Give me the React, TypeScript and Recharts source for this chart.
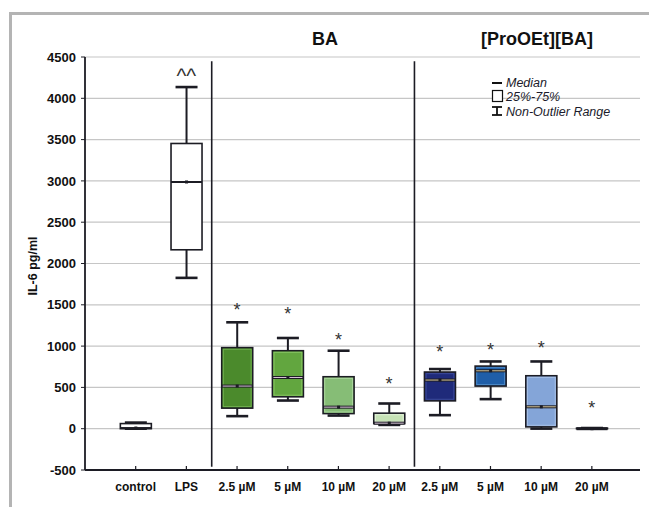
import {
  Bar,
  CartesianGrid,
  ComposedChart,
  ReferenceLine,
  Scatter,
  XAxis,
  YAxis,
} from "recharts";

const categories = ["control", "LPS", "2.5 µM", "5 µM", "10 µM", "20 µM", "2.5 µM", "5 µM", "10 µM", "20 µM"];
const whiskerLow = [0, 1826, 152, 341, 159, 46, 164, 358, 1, 0];
const quartile1 = [0, 2166, 249, 386, 183, 62, 337, 516, 22, 0];
const medians = [8, 2987, 516, 620, 261, 67, 589, 701, 265, 0];
const quartile3 = [62, 3453, 981, 944, 629, 188, 686, 758, 641, 6];
const whiskerHigh = [74, 4136, 1288, 1098, 944, 305, 722, 814, 814, 8];
const marks = ["", "^^", "*", "*", "*", "*", "*", "*", "*", "*"];
const markValues = [null, 4330, 1500, 1450, 1130, 600, 995, 1015, 1040, 310];
const yTicks = [-500, 0, 500, 1000, 1500, 2000, 2500, 3000, 3500, 4000, 4500];

const boxFills = ["#ffffff", "#ffffff", "#4b8a2c", "#62a63f", "#86bd76", "#c6e2b6", "#1f2a7a", "#1f5ea8", "#84a5d8", "#c8d7ef"];
const boxInner = ["#ffffff", "#ffffff", "#6fae4e", "#86c462", "#a9d49c", "#e2f1d8", "#3b4a9a", "#4a86c4", "#a7c0e6", "#e0e9f7"];
const medianTint = ["#111111", "#111111", "#d8c4d8", "#d8c4d8", "#d8c4d8", "#d8c4d8", "#d9c89a", "#d9c89a", "#d9c89a", "#d9c89a"];

const chartData = categories.map((label, i) => ({
  pos: i + 1,
  label,
  low: whiskerLow[i],
  q1: quartile1[i],
  median: medians[i],
  q3: quartile3[i],
  high: whiskerHigh[i],
  mark: marks[i],
  markValue: markValues[i],
  fill: boxFills[i],
  inner: boxInner[i],
  tint: medianTint[i],
}));

const ink = "#1c1c24";
const fontFamily = "Liberation Sans, Arial, sans-serif";

const BoxShape = (props: any) => {
  const { x, y, width, height, payload } = props;
  if (!payload || x == null) return null;
  const { low, high, q1, median, q3, fill, inner, tint } = payload;
  const top = Math.min(y, y + height);
  const bottom = Math.max(y, y + height);
  const span = high - low || 1;
  const yOf = (v: number) => bottom - ((v - low) / span) * (bottom - top);
  const cx = x + width / 2;
  const capHalf = 11;
  const boxTop = yOf(q3);
  const boxBottom = yOf(q1);
  const medY = yOf(median);
  const colored = fill !== "#ffffff";
  const tall = boxBottom - boxTop > 4;
  return (
    <g>
      <line x1={cx} x2={cx} y1={yOf(high)} y2={yOf(low)} stroke={ink} strokeWidth={2} />
      <line x1={cx - capHalf} x2={cx + capHalf} y1={yOf(high)} y2={yOf(high)} stroke={ink} strokeWidth={2.6} />
      <line x1={cx - capHalf} x2={cx + capHalf} y1={yOf(low)} y2={yOf(low)} stroke={ink} strokeWidth={2.6} />
      <rect
        x={x}
        y={boxTop}
        width={width}
        height={Math.max(boxBottom - boxTop, 0.5)}
        fill={tall ? fill : ink}
        stroke={ink}
        strokeWidth={1.6}
      />
      {colored && tall && (
        <rect
          x={x + 1.6}
          y={boxTop + 1.6}
          width={width - 3.2}
          height={boxBottom - boxTop - 3.2}
          fill="none"
          stroke={inner}
          strokeWidth={1}
        />
      )}
      <line x1={x} x2={x + width} y1={medY} y2={medY} stroke={ink} strokeWidth={colored ? 3 : 2} />
      {colored && tall && (
        <line x1={x + 1} x2={x + width - 1} y1={medY} y2={medY} stroke={tint} strokeWidth={1} />
      )}
      <rect x={cx - 1.5} y={medY - 1.5} width={3} height={3} fill={ink} />
    </g>
  );
};

const MarkShape = (props: any) => {
  const { cx, cy, payload } = props;
  if (!payload || !payload.mark || cy == null || Number.isNaN(cy)) return null;
  const isCaret = payload.mark === "^^";
  return (
    <text
      x={cx}
      y={cy + (isCaret ? 12 : 11)}
      textAnchor="middle"
      fontFamily={fontFamily}
      fontSize={isCaret ? 21 : 18}
      fill="#333"
    >
      {payload.mark}
    </text>
  );
};

const CategoryTick = (props: any) => {
  const { x, y, payload } = props;
  const idx = Math.round(payload.value) - 1;
  return (
    <g>
      <line x1={x} x2={x} y1={y - 4} y2={y} stroke={ink} strokeWidth={1.2} />
      <text
        x={x}
        y={y + 21}
        textAnchor="middle"
        fontFamily={fontFamily}
        fontSize={12}
        fontWeight="bold"
        fill="#111"
      >
        {categories[idx] ?? ""}
      </text>
    </g>
  );
};

const App = () => {
  return (
    <div
      style={{
        position: "absolute",
        left: 0,
        top: 0,
        width: 649,
        height: 507,
        background: "#ffffff",
        overflow: "hidden",
      }}
    >
      <div
        style={{
          position: "absolute",
          left: 9,
          top: 12,
          width: 660,
          height: 520,
          borderTop: "3px solid #b4b4b4",
          borderLeft: "3px solid #b4b4b4",
        }}
      />
      <div style={{ position: "absolute", left: 0, top: 0 }}>
        <ComposedChart
          width={649}
          height={507}
          data={chartData}
          margin={{ top: 57, right: 9, bottom: 7, left: 25 }}
        >
          <CartesianGrid vertical={false} stroke="#c6c6c6" strokeWidth={1.2} />
          <XAxis
            dataKey="pos"
            type="number"
            domain={[0, 10.95]}
            ticks={[1, 2, 3, 4, 5, 6, 7, 8, 9, 10]}
            allowDataOverflow
            height={30}
            tickSize={0}
            tickMargin={0}
            tick={<CategoryTick />}
            axisLine={{ stroke: ink, strokeWidth: 1.8 }}
            interval={0}
          />
          <XAxis
            xAxisId="top"
            orientation="top"
            type="number"
            domain={[0, 10.95]}
            height={0}
            tick={false}
            tickLine={false}
            axisLine={{ stroke: ink, strokeWidth: 1.8 }}
          />
          <YAxis
            domain={[-500, 4500]}
            ticks={yTicks}
            width={60}
            tickSize={4}
            tickMargin={5}
            interval={0}
            tick={{ fill: "#111", fontSize: 13, fontWeight: "bold", fontFamily }}
            tickLine={{ stroke: ink }}
            axisLine={{ stroke: ink, strokeWidth: 1.8 }}
          />
          <YAxis
            yAxisId="right"
            orientation="right"
            domain={[-500, 4500]}
            width={0}
            tick={false}
            tickLine={false}
            axisLine={{ stroke: ink, strokeWidth: 1.8 }}
          />
          <ReferenceLine
            segment={[
              { x: 2.5, y: 4450 },
              { x: 2.5, y: -460 },
            ]}
            stroke={ink}
            strokeWidth={1.6}
          />
          <ReferenceLine
            segment={[
              { x: 6.5, y: 4450 },
              { x: 6.5, y: -460 },
            ]}
            stroke={ink}
            strokeWidth={1.6}
          />
          <Bar
            dataKey={(d: any) => [d.low, d.high]}
            barSize={31}
            shape={<BoxShape />}
            isAnimationActive={false}
          />
          <Scatter dataKey="markValue" shape={<MarkShape />} isAnimationActive={false} />
        </ComposedChart>
      </div>
      <svg
        width={649}
        height={507}
        style={{ position: "absolute", left: 0, top: 0, pointerEvents: "none" }}
      >
        <text x={325} y={45} textAnchor="middle" fontFamily={fontFamily} fontSize={18} fontWeight="bold" fill="#111">
          BA
        </text>
        <text x={537} y={45} textAnchor="middle" fontFamily={fontFamily} fontSize={18} fontWeight="bold" fill="#111">
          [ProOEt][BA]
        </text>
        <text
          x={0}
          y={0}
          transform="translate(37 266) rotate(-90)"
          textAnchor="middle"
          fontFamily={fontFamily}
          fontSize={12.5}
          fontWeight="bold"
          fill="#111"
        >
          IL-6 pg/ml
        </text>
        <g fontFamily={fontFamily} fontStyle="italic" fontSize={12.5} fill="#1b1b2b">
          <line x1={492} x2={502} y1={83} y2={83} stroke="#111" strokeWidth={2} />
          <text x={506} y={87}>Median</text>
          <rect x={492.5} y={90.5} width={10} height={11} fill="#fff" stroke="#111" strokeWidth={1.2} />
          <text x={506} y={101}>25%-75%</text>
          <line x1={497} x2={497} y1={107} y2={115} stroke="#111" strokeWidth={1.8} />
          <line x1={492} x2={502} y1={107} y2={107} stroke="#111" strokeWidth={1.8} />
          <line x1={492} x2={502} y1={115} y2={115} stroke="#111" strokeWidth={1.8} />
          <text x={506} y={116}>Non-Outlier Range</text>
        </g>
      </svg>
    </div>
  );
};

export default App;
